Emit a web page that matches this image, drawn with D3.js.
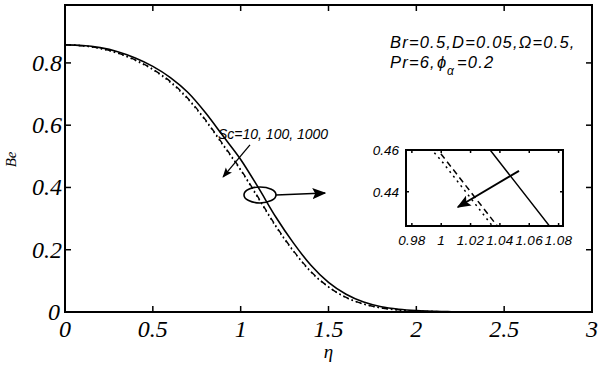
<!DOCTYPE html>
<html><head><meta charset="utf-8">
<script src="https://cdn.jsdelivr.net/npm/d3@7"></script>
<style>
body{margin:0;background:#fff}svg{display:block}
.serif{font-family:"Liberation Serif","DejaVu Serif",serif;font-style:italic}
.sans{font-family:"Liberation Sans","DejaVu Sans",sans-serif;font-style:italic}
</style>
</head><body>
<svg id="c" width="602" height="369"></svg>
<script>
const eta = [0,0.1,0.2,0.3,0.4,0.5,0.6,0.7,0.8,0.9,1.0,1.1,1.2,1.3,1.4,1.5,1.6,1.7,1.8,1.9,2.0,2.1,2.2,2.3,2.4,2.5,2.6,2.8,3.0];
const beSc10   = [0.858,0.856,0.849,0.836,0.816,0.789,0.753,0.705,0.640,0.565,0.490,0.400,0.305,0.222,0.150,0.095,0.057,0.032,0.017,0.009,0.0045,0.002,0.001,0.0004,0.0001,0,0,0,0];
const beSc100  = [0.858,0.855,0.847,0.832,0.810,0.780,0.740,0.686,0.617,0.538,0.458,0.368,0.277,0.197,0.130,0.081,0.047,0.026,0.013,0.007,0.003,0.0015,0.0006,0.0002,0,0,0,0,0];
const beSc1000 = [0.858,0.855,0.846,0.831,0.808,0.778,0.737,0.683,0.614,0.535,0.455,0.365,0.274,0.195,0.128,0.080,0.046,0.025,0.013,0.006,0.003,0.0013,0.0005,0.0002,0,0,0,0,0];
const xTicks = [0,0.5,1,1.5,2,2.5,3];
const xTickLabels = ["0","0.5","1","1.5","2","2.5","3"];
const yTicks = [0,0.2,0.4,0.6,0.8];
const yTickLabels = ["0","0.2","0.4","0.6","0.8"];
const insetXTicks = [0.98,1,1.02,1.04,1.06,1.08];
const insetXTickLabels = ["0.98","1","1.02","1.04","1.06","1.08"];
const insetYTicks = [0.44,0.46];
const insetYTickLabels = ["0.44","0.46"];
const seriesNames = ["Sc=10","Sc=100","Sc=1000"];
const dashes = [null,"6,3,1.5,3","1.5,3"];

const svg = d3.select("#c");
const defs = svg.append("defs");
defs.append("marker").attr("id","ah").attr("viewBox","0 0 10 10").attr("refX",9).attr("refY",5)
  .attr("markerWidth",10).attr("markerHeight",10).attr("markerUnits","userSpaceOnUse").attr("orient","auto")
  .append("path").attr("d","M0,1 L10,5 L0,9 L2,5 Z").attr("fill","#000");
defs.append("marker").attr("id","ah2").attr("viewBox","0 0 10 10").attr("refX",9).attr("refY",5)
  .attr("markerWidth",14).attr("markerHeight",14).attr("markerUnits","userSpaceOnUse").attr("orient","auto")
  .append("path").attr("d","M0,1 L10,5 L0,9 L2,5 Z").attr("fill","#000");

const L=65,R=592,T=5,B=312;
const x = d3.scaleLinear().domain([0,3]).range([L,R]);
const y = d3.scaleLinear().domain([0,0.986]).range([B,T]);
const series = [beSc10,beSc100,beSc1000];

const gLines = svg.append("g");
series.forEach((s,i)=>{
  const line = d3.line().x((d,j)=>x(eta[j])).y(d=>y(d)).curve(d3.curveMonotoneX);
  gLines.append("path").datum(s).attr("d",line).attr("fill","none").attr("stroke","#000")
    .attr("stroke-width",i===0?1.6:1.4).attr("stroke-dasharray",dashes[i]);
});

function box(g,xs,ys,xt,yt,tl){
  const [x0,x1]=xs.range(), [y0,y1]=ys.range();
  g.append("rect").attr("x",x0).attr("y",y1).attr("width",x1-x0).attr("height",y0-y1)
    .attr("fill","none").attr("stroke","#000").attr("stroke-width",2);
  xt.forEach(v=>{
    g.append("line").attr("x1",xs(v)).attr("x2",xs(v)).attr("y1",y0).attr("y2",y0-tl).attr("stroke","#000").attr("stroke-width",1.5);
    g.append("line").attr("x1",xs(v)).attr("x2",xs(v)).attr("y1",y1).attr("y2",y1+tl).attr("stroke","#000").attr("stroke-width",1.5);
  });
  yt.forEach(v=>{
    g.append("line").attr("x1",x0).attr("x2",x0+tl).attr("y1",ys(v)).attr("y2",ys(v)).attr("stroke","#000").attr("stroke-width",1.5);
    g.append("line").attr("x1",x1).attr("x2",x1-tl).attr("y1",ys(v)).attr("y2",ys(v)).attr("stroke","#000").attr("stroke-width",1.5);
  });
}
const gAx = svg.append("g");
box(gAx,x,y,xTicks,yTicks,6);
xTicks.forEach((v,i)=>{
  gAx.append("text").attr("class","serif").attr("x",x(v)).attr("y",337).attr("text-anchor","middle")
    .style("font-size","24px").text(xTickLabels[i]);
});
yTicks.forEach((v,i)=>{
  gAx.append("text").attr("class","serif").attr("x",v===0?60:62).attr("y",y(v)+8).attr("text-anchor","end")
    .style("font-size","24px").text(yTickLabels[i]);
});
gAx.append("text").attr("class","serif").attr("x",x(1.5)).attr("y",358).attr("text-anchor","middle")
  .style("font-size","19px").text("η");
gAx.append("text").attr("class","serif").attr("transform","translate(16,"+y(0.49)+") rotate(-90)").attr("text-anchor","middle")
  .style("font-size","15px").text("Be");

// parameter text
function ptxt(xx,yy,s,fs){
  return svg.append("text").attr("class","sans").attr("x",xx).attr("y",yy).style("font-size",fs+"px")
    .style("letter-spacing","1.2px").text(s);
}
ptxt(390,48,"Br=0.5,D=0.05,Ω=0.5,",16.5);
ptxt(390,68,"Pr=6,",16.5);
ptxt(437,68,"ϕ",16.5);
ptxt(447,75,"α",12);
ptxt(457,68,"=0.2",16.5);

// annotations
svg.append("text").attr("class","sans").attr("x",218).attr("y",y(0.556)).style("font-size","14px").text("Sc=10, 100, 1000");
svg.append("line").attr("x1",x(1.053)).attr("y1",y(0.537)).attr("x2",x(0.90)).attr("y2",y(0.434))
  .attr("stroke","#000").attr("stroke-width",1.3).attr("marker-end","url(#ah)");
svg.append("ellipse").attr("cx",x(1.11)).attr("cy",y(0.376)).attr("rx",16).attr("ry",8)
  .attr("fill","none").attr("stroke","#000").attr("stroke-width",1.6);
svg.append("line").attr("x1",x(1.11)+16).attr("y1",y(0.376)).attr("x2",x(1.48)).attr("y2",y(0.382))
  .attr("stroke","#000").attr("stroke-width",1.6).attr("marker-end","url(#ah2)");

// inset
const xi = d3.scaleLinear().domain([0.976,1.083]).range([406,563]);
const yi = d3.scaleLinear().domain([0.4236,0.46]).range([226,150]);
const gi = svg.append("g");
gi.append("rect").attr("x",406).attr("y",150).attr("width",157).attr("height",76).attr("fill","#fff");
defs.append("clipPath").attr("id","ic").append("rect").attr("x",406).attr("y",150).attr("width",157).attr("height",76);
const gil = gi.append("g").attr("clip-path","url(#ic)");
series.forEach((s,i)=>{
  const line = d3.line().x((d,j)=>xi(eta[j])).y(d=>yi(d));
  gil.append("path").datum(s).attr("d",line).attr("fill","none").attr("stroke","#000")
    .attr("stroke-width",1.5).attr("stroke-dasharray",i===0?null:(i===1?"6,4":"2,4"));
});
box(gi,xi,yi,insetXTicks,insetYTicks,3);
insetXTicks.forEach((v,i)=>{
  gi.append("text").attr("class","sans").attr("x",xi(v)).attr("y",245).attr("text-anchor","middle")
    .style("font-size","13.5px").style("letter-spacing","0.3px").text(insetXTickLabels[i]);
});
insetYTicks.forEach((v,i)=>{
  gi.append("text").attr("class","sans").attr("x",399).attr("y",yi(v)+5).attr("text-anchor","end")
    .style("font-size","13.5px").text(insetYTickLabels[i]);
});
gi.append("line").attr("x1",xi(1.053)).attr("y1",yi(0.450)).attr("x2",xi(1.0114)).attr("y2",yi(0.4327))
  .attr("stroke","#000").attr("stroke-width",2).attr("marker-end","url(#ah2)");
</script>
</body></html>
